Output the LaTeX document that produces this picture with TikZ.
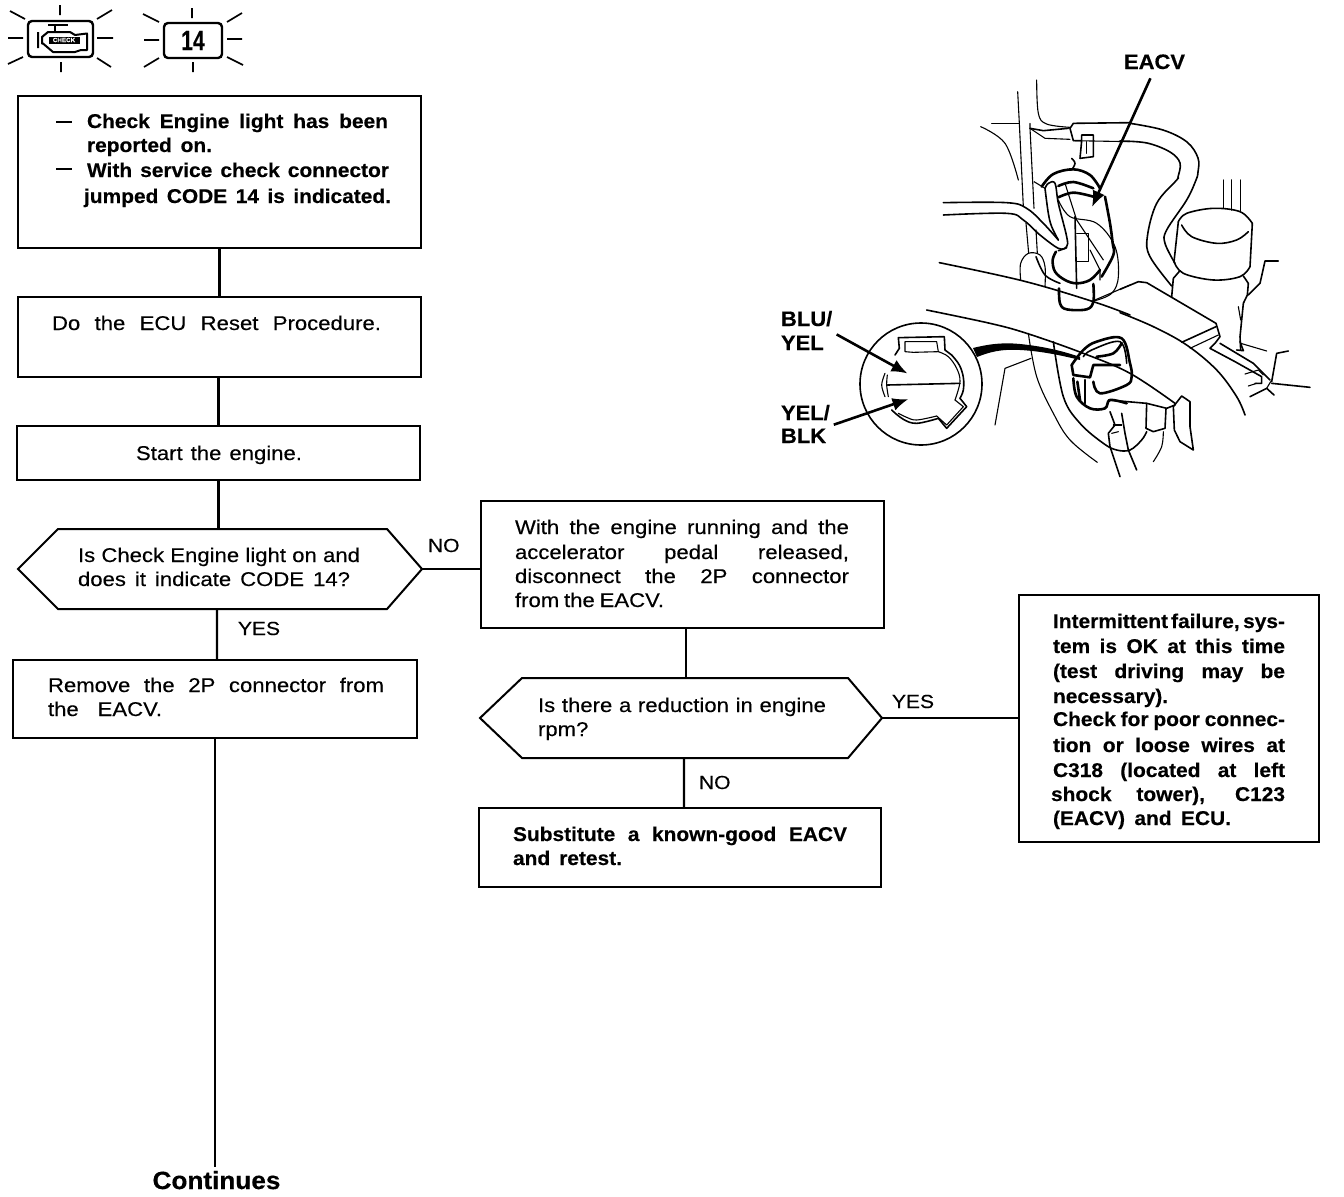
\documentclass[tikz,border=0pt]{standalone}
\usepackage{fontspec}
\setmainfont{Liberation Sans}[FakeStretch=1.11,FakeBold=0.3,BoldFeatures={FakeStretch=1.05,FakeBold=0.35}]
\usepackage{graphicx}
\usetikzlibrary{arrows.meta,calc}
\newcommand\fj[2]{\hbox to #1bp{\spaceskip=.25em plus 1fil minus .2em\relax #2\ifx\relax#2\relax\fi}}
% one line: step from previous baseline, x offset, width, text
\newcommand\lnj[4]{\vskip #1bp\hbox{\hspace*{#2bp}\smash{\fj{#3}{#4}}}}
\newcommand\lnf[3]{\vskip #1bp\hbox{\hspace*{#2bp}\smash{\hbox{#3}}}}
\newcommand\body[3]{\vbox to #2bp{\offinterlineskip\hrule width #1bp height 0pt #3\vss}}
\newcommand\cv[2][]{\draw[ill,#1] plot[smooth,tension=.6] coordinates {#2};}
\newcommand\pl[2][]{\draw[ill,#1] plot coordinates {#2};}
\tikzset{
  flowbox/.style={draw=black,line width=2bp,inner sep=0pt,outer sep=0pt,anchor=north west,fill=white,font=\fontsize{20}{24}\selectfont},
  plaintext/.style={inner sep=0pt,outer sep=0pt,anchor=north west,font=\fontsize{20}{24}\selectfont},
  lab/.style={inner sep=0pt,outer sep=0pt,anchor=base west,font=\fontsize{19}{24}\selectfont},
  conn/.style={draw=black,line width=2.2bp},
  hexa/.style={draw=black,line width=2bp,line join=miter},
  ill/.style={draw=black,line width=1.1bp,line join=round,line cap=round},
  med/.style={line width=1.6bp},
  hvy/.style={line width=2.6bp},
  lead/.style={draw=black,line width=2.6bp,-{Latex[length=16bp,width=13bp]}},
  ray/.style={draw=black,line width=1.7bp},
  icon/.style={draw=black,line width=2.4bp,rounded corners=4bp,inner sep=0pt,outer sep=0pt,anchor=north west},
}
\begin{document}
\begin{tikzpicture}[x=1bp,y=-1bp]
\useasboundingbox (0,0) rectangle (1344,1196);
% ---------- flow boxes
\node[flowbox] (b1) at (18,96) {\body{403}{152}{\bfseries
  \lnf{32}{38}{\rule[.25em]{16bp}{2bp}}\vskip-32bp
  \lnj{32}{69}{301}{Check Engine light has been}
  \lnj{24}{69}{125}{reported on.}
  \lnf{25}{38}{\rule[.33em]{16bp}{2bp}}\vskip-25bp
  \lnj{25}{69}{302}{With service check connector}
  \lnj{26}{66}{307}{jumped CODE 14 is indicated.}}};
\node[flowbox] (b2) at (18,297) {\body{403}{80}{\lnj{33}{34}{329}{Do the ECU Reset Procedure.}}};
\node[flowbox] (b3) at (17,426) {\body{403}{54}{\lnj{34}{119}{166}{Start the engine.}}};
\node[plaintext] (h1) at (18,529) {\body{404}{80}{\lnj{33}{60}{282}{Is Check Engine light on and}\lnj{24}{60}{272}{does it indicate CODE 14?}}};
\draw[hexa] (h1.west) -- ([xshift=40bp]h1.north west) -- ([xshift=-35bp]h1.north east) -- (h1.east) -- ([xshift=-35bp]h1.south east) -- ([xshift=40bp]h1.south west) -- cycle;
\node[flowbox] (b4) at (13,660) {\body{404}{78}{\lnj{32}{35}{336}{Remove the 2P connector from}\lnj{24}{35}{114}{the EACV.}}};
\node[flowbox] (b5) at (481,501) {\body{403}{127}{\lnj{33}{34}{334}{With the engine running and the}\lnj{25}{34}{334}{accelerator pedal released,}\lnj{24}{34}{334}{disconnect the 2P connector}\lnj{24}{34}{149}{from the EACV.}}};
\node[plaintext] (h2) at (480,678) {\body{402}{80}{\lnj{34}{58}{288}{Is there a reduction in engine}\lnj{24}{58}{48}{rpm?\hss}}};
\draw[hexa] (h2.west) -- ([xshift=42bp]h2.north west) -- ([xshift=-34bp]h2.north east) -- (h2.east) -- ([xshift=-34bp]h2.south east) -- ([xshift=42bp]h2.south west) -- cycle;
\node[flowbox] (b6) at (479,808) {\body{402}{79}{\bfseries\lnj{33}{34}{334}{Substitute a known-good EACV}\lnj{24}{34}{109}{and retest.}}};
\node[flowbox] (b7) at (1019,595) {\body{300}{247}{\bfseries
  \lnj{33}{34}{232}{Intermittent failure, sys-}
  \lnj{25}{34}{232}{tem is OK at this time}
  \lnj{25}{34}{232}{(test driving may be}
  \lnj{25}{34}{115}{necessary).\hss}
  \lnj{23}{34}{232}{Check for poor connec-}
  \lnj{26}{34}{232}{tion or loose wires at}
  \lnj{25}{34}{232}{C318 (located at left}
  \lnj{24}{32}{234}{shock tower), C123}
  \lnj{24}{34}{178}{(EACV) and ECU.}}};
\node[inner sep=0pt,outer sep=4bp,font=\fontsize{25}{28}\selectfont\bfseries,anchor=base] (cont) at (216.5,1189) {Continues};
% ---------- connectors
\draw[conn] (b1.south) -- (b2.north);
\draw[conn] ([xshift=-1bp]b2.south) -- ([xshift=-1bp]b2.south |- b3.north);
\draw[conn] (b3.south) -- (b3.south |- h1.north);
\draw[conn] ([xshift=-3bp]h1.south) -- ([xshift=2bp]b4.north);
\draw[conn] (b4.south) -- (b4.south |- cont.north);
\draw[conn] (h1.east) -- (h1.east -| b5.west);
\draw[conn] ([xshift=3.5bp]b5.south) -- ([xshift=5bp]h2.north);
\draw[conn] ([xshift=3bp]h2.south) -- ([xshift=4bp]b6.north);
\draw[conn] (h2.east) -- (h2.east -| b7.west);
% ---------- branch labels
\node[lab] (no1) at (428,552) {NO};
\node[lab] (yes1) at (238,635) {YES};
\node[lab] (yes2) at (892,708) {YES};
\node[lab] (no2) at (699,789) {NO};
% ---------- icons
\node[icon,minimum width=65bp,minimum height=36bp] (engicon) at (28,21) {};
\node[icon,minimum width=58bp,minimum height=35bp,font=\fontsize{28}{28}\selectfont\bfseries] (codeicon) at (164,23) {\scalebox{.72}[1]{14}};
\node[fill=black,text=white,inner sep=0.5bp,font=\fontsize{6}{6}\selectfont\bfseries,minimum width=31bp,minimum height=7bp] (chk) at (64,40) {CHECK};
\draw[line width=2bp,line join=round] (38,32) -- (38,48) (42,37) -- (48,32) -- (70,32) -- (75,35) -- (87,33.5) -- (87,50) -- (81,50) -- (75,52) -- (53,52) -- (43,43.5) -- (42,43.5) -- cycle;
\draw[line width=2bp] (48,25) -- (68,25) (55,25) -- (55,31);
\draw[ray] (60,5) -- (60,15) (61,62) -- (61,72) (8,38) -- (23,38) (97,38) -- (113,38) (10,11) -- (25,19) (97,19) -- (112,10) (8,64) -- (23,57) (97,58) -- (111,67);
\draw[ray] (192,8) -- (192,18) (193,62) -- (193,72) (144,40) -- (159,40) (227,39) -- (242,39) (143,14) -- (159,22) (227,22) -- (242,13) (144,67) -- (159,58) (227,57) -- (243,65);
% ---------- illustration: labels and leaders
\node[plaintext,font=\fontsize{21}{24}\selectfont\bfseries,anchor=base west] (eacv) at (1124,69) {EACV};
\node[plaintext,font=\fontsize{21}{24}\selectfont\bfseries] (blu) at (781,310) {\body{49}{44}{\lnf{16}{0}{BLU/}\lnf{24}{0}{YEL}}};
\node[plaintext,font=\fontsize{21}{24}\selectfont\bfseries] (yel) at (781,404) {\body{49}{44}{\lnf{16}{0}{YEL/}\lnf{23}{0}{BLK}}};
\coordinate (eacvtip) at (1092,207);
\coordinate (blutip) at (907.5,373.5);
\coordinate (yeltip) at (908.5,399);
% ---------- upper illustration (crop 930,80)
\begin{scope}[shift={(930,80)},x=0.33333bp,y=-0.33333bp]
\cv{(320,0)(325,100)(350,132)(420,142)}
\pl[med]{(300,145)(340,152)(415,145)}
\pl{(300,130)(300,145)(345,175)(420,178)}
\pl{(263,35)(268,130)(280,380)}
\pl{(288,430)(296,520)}
\pl{(300,145)(312,385)}
\pl{(318,450)(322,520)}
\pl{(185,130)(268,130)}
\cv{(152,140)(225,190)(265,300)}
\pl[med]{(420,145)(430,130)(600,128)}
\pl[med]{(420,145)(430,182)(455,182)(455,165)(490,165)(490,230)(450,235)(455,182)}
\pl{(430,182)(600,185)}
\pl{(470,185)(470,220)}
\cv[med]{(425,235)(435,250)(425,270)}
\cv[hvy]{(335,320)(370,282)(430,268)(480,285)(510,325)}
\cv[hvy]{(385,318)(430,306)(490,325)}
\cv[hvy]{(385,352)(430,338)(490,350)}
\cv[hvy]{(525,350)(540,430)(548,490)(550,525)(515,590)}
\cv[med]{(40,368)(230,368)(290,385)(340,430)(385,480)}
\cv[med]{(40,405)(230,400)(280,420)(330,465)(385,505)(410,503)}
\cv[med]{(345,325)(355,310)(375,310)(385,370)(410,470)(410,500)(385,512)}
\cv[med]{(345,325)(355,400)(365,440)(385,480)}
\pl{(312,305)(345,325)}
\pl{(405,310)(440,420)(480,480)(520,540)}
\cv{(385,360)(420,410)(500,430)(555,500)(565,590)(545,640)(495,662)}
\pl[med]{(435,410)(440,625)}
\pl[med]{(440,460)(475,460)(475,545)(440,545)}
\cv[hvy]{(378,515)(368,540)(375,575)(405,600)(440,610)(480,600)(510,570)}
\cv[med]{(318,530)(345,585)(390,610)}
\cv[hvy]{(387,625)(390,670)(410,688)(470,688)(490,665)(490,612)}
\cv{(272,600)(272,550)(295,520)(330,525)(345,560)(345,618)}
\pl{(480,510)(510,570)(510,600)}
\pl{(490,662)(600,615)}
\cv[med]{(28,548)(280,603)(490,665)(600,705)}
\end{scope}
% ---------- right illustration (crop 1120,180)
\begin{scope}[shift={(1120,180)},x=0.33333bp,y=-0.33333bp]
\cv[med]{(30,-170)(129,-150)(201,-114)(234,-66)(234,-24)(228,0)(200,60)(140,150)(135,190)(165,250)}
\cv[med]{(0,-117)(81,-111)(150,-84)(180,-51)(174,-9)(170,0)(110,70)(82,170)(90,230)(155,318)}
\pl{(310,0)(310,85)} \pl[med]{(335,0)(335,90)} \pl{(362,0)(362,95)}
\cv[med]{(175,125)(200,100)(280,85)(360,95)(397,130)}
\cv[med]{(185,135)(215,170)(290,190)(350,180)(385,155)}
\pl[med]{(175,125)(162,245)}
\pl[med]{(397,130)(390,260)}
\cv[med]{(162,245)(190,280)(280,300)(360,290)(390,260)}
\pl[med]{(180,272)(160,295)(155,350)}
\pl[med]{(370,288)(385,310)(382,345)(370,370)(360,470)(362,510)}
\pl[med]{(475,243)(435,243)(420,310)(385,345)}
\pl{(355,380)(362,420)}
\pl[med]{(0,328)(55,305)(80,308)(288,430)(300,470)(285,490)(270,505)(345,545)(425,590)(425,610)(405,610)}
\pl[med]{(185,487)(288,440)}
\pl{(210,505)(295,465)}
\pl[med]{(300,490)(400,550)(450,600)}
\pl{(375,582)(415,570)(430,585)}
\pl{(385,618)(410,610)}
\pl[med]{(455,605)(470,520)(505,513)}
\pl[med]{(455,610)(570,622)}
\pl[med]{(390,650)(440,625)(462,645)}
\pl{(440,625)(452,605)}
\pl[med]{(360,485)(370,512)(350,510)}
\pl{(362,490)(440,513)}
\cv[med]{(0,398)(100,440)(200,495)(290,570)(350,650)(375,705)}
\end{scope}
% ---------- connector view (crop 770,290)
\begin{scope}[shift={(770,290)},x=0.33333bp,y=-0.33333bp]
\draw[ill,med] (453,282) circle[radius=183];
\pl[med]{(375,195)(388,175)(385,143)(523,140)(525,180)(545,195)}
\cv[med]{(545,195)(568,225)(580,262)(580,300)(570,325)}
\pl[med]{(570,325)(590,350)(530,415)(505,385)}
\cv[med]{(505,385)(440,400)(400,388)(365,360)}
\pl{(405,185)(405,155)(500,155)(505,185)(430,187)(405,185)}
\cv{(505,185)(535,200)(560,235)(570,275)(555,330)}
\pl{(555,330)(580,350)(530,405)(500,378)}
\cv{(500,378)(440,390)(410,382)(385,370)}
\cv{(345,250)(335,285)(345,320)}
\cv{(352,255)(350,285)(355,320)}
\pl[med]{(352,285)(570,280)}
\end{scope}
\fill[black,line join=round] (973,348) .. controls (985,345) and (1000,342) .. (1020,344) .. controls (1040,346) and (1060,350) .. (1080,357) -- (1080,360) .. controls (1060,355) and (1040,351) .. (1020,350) .. controls (1000,349) and (990,352) .. (977,357) -- cycle;
\draw[lead,shorten <=10bp] (eacv.south) -- (eacvtip);
\draw[lead,shorten <=5bp] (blu.east) -- (blutip);
\draw[lead,shorten <=4bp] (yel.east) -- (yeltip);
% ---------- lower illustration (crop 990,300)
\begin{scope}[shift={(990,300)},x=0.33333bp,y=-0.33333bp]
\cv[med]{(-190,30)(0,70)(110,100)(280,160)(420,220)(555,310)}
\cv[hvy]{(245,195)(280,150)(320,125)(395,115)(420,190)(425,230)(410,255)(330,280)(310,245)}
\cv[med]{(280,170)(305,150)(390,125)(410,190)}
\cv[hvy]{(320,170)(370,160)(395,130)}
\pl[hvy]{(245,195)(250,225)(300,232)(310,195)(390,195)}
\cv[hvy]{(250,235)(260,290)(300,325)(345,325)(360,300)(410,310)}
\pl[hvy]{(262,245)(270,300)} \pl[hvy]{(285,240)(285,310)}
\pl[med]{(355,300)(470,310)(530,325)(555,315)}
\pl[med]{(470,310)(468,385)(490,395)(525,385)(528,325)}
\cv[med]{(470,395)(455,420)(420,450)(380,450)(340,430)(270,370)(220,290)(190,125)}
\cv{(115,100)(140,230)(190,340)(240,420)(322,487)}
\pl{(123,175)(45,205)(15,375)}
\pl[med]{(360,335)(375,375)(355,400)(360,440)(390,530)}
\pl[med]{(395,340)(405,400)(415,450)(440,510)}
\pl{(370,375)(395,375)} \pl{(365,400)(385,395)}
\cv{(520,395)(515,440)(490,485)}
\pl[med]{(550,320)(575,288)(600,305)(600,380)(610,450)(570,425)(553,390)(550,320)}
\end{scope}
\end{tikzpicture}
\end{document}
